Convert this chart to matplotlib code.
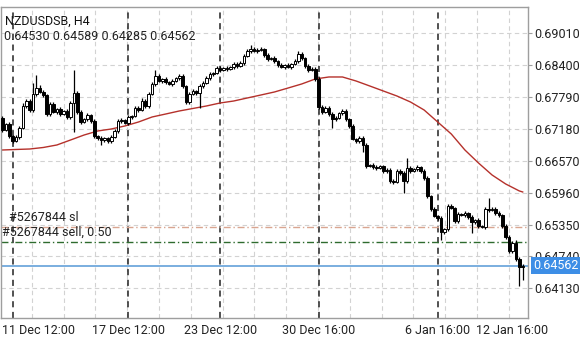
import numpy as np
import matplotlib
matplotlib.use("Agg")
import matplotlib.pyplot as plt
from matplotlib.transforms import blended_transform_factory

plt.rcParams['font.family'] = ['Roboto', 'DejaVu Sans']

# NZDUSDSB H4 - closes per bar, open of each bar = previous close
first_open = 0.67392
closes = [
    0.67162, 0.67277, 0.67047, 0.66951, 0.67028, 0.67200, 0.67622, 0.67717, 0.67545, 0.67851,
    0.67966, 0.67890, 0.67832, 0.67468, 0.67660, 0.67507, 0.67564, 0.67468, 0.67526, 0.67411,
    0.67679, 0.67871, 0.67507, 0.67315, 0.67373, 0.67449, 0.67334, 0.67047, 0.67009, 0.66970,
    0.67009, 0.66951, 0.67028, 0.67143, 0.67334, 0.67354, 0.67296, 0.67411, 0.67430, 0.67583,
    0.67545, 0.67717, 0.67622, 0.67851, 0.68043, 0.68196, 0.68100, 0.68139, 0.68081, 0.68043,
    0.68100, 0.68158, 0.68196, 0.68005, 0.67698, 0.67851, 0.67909, 0.67871, 0.68005, 0.68062,
    0.68158, 0.68234, 0.68254, 0.68349, 0.68311, 0.68349, 0.68330, 0.68368, 0.68426, 0.68388,
    0.68445, 0.68579, 0.68675, 0.68713, 0.68675, 0.68694, 0.68713, 0.68598, 0.68522, 0.68541,
    0.68483, 0.68407, 0.68368, 0.68407, 0.68368, 0.68426, 0.68483, 0.68617, 0.68541, 0.68388,
    0.68311, 0.68330, 0.68139, 0.67602, 0.67507, 0.67583, 0.67468, 0.67373, 0.67392, 0.67488,
    0.67526, 0.67373, 0.67239, 0.66990, 0.66951, 0.67009, 0.66875, 0.66473, 0.66492, 0.66453,
    0.66434, 0.66473, 0.66377, 0.66396, 0.66185, 0.66166, 0.66377, 0.66339, 0.66185, 0.66434,
    0.66377, 0.66415, 0.66453, 0.66377, 0.66243, 0.65898, 0.65649, 0.65515, 0.65477, 0.65209,
    0.65266, 0.65707, 0.65668, 0.65419, 0.65553, 0.65534, 0.65573, 0.65496, 0.65400, 0.65439,
    0.65324, 0.65304, 0.65649, 0.65630, 0.65649, 0.65573, 0.65534, 0.65324, 0.65113, 0.64845,
    0.64998, 0.64692, 0.64530, 0.64562,
]
# wick lengths above / below the body, in pips
upper_wick = [
    3, 2, 3, 2, 3, 4, 5, 3, 4, 21,
    25, 6, 3, 2, 4, 3, 2, 3, 2, 3,
    4, 44, 3, 3, 2, 3, 2, 3, 2, 3,
    2, 2, 3, 3, 4, 3, 2, 3, 2, 4,
    3, 5, 3, 4, 4, 11, 3, 2, 3, 2,
    3, 2, 4, 3, 2, 4, 3, 2, 3, 3,
    4, 3, 2, 4, 3, 2, 3, 2, 3, 3,
    4, 3, 4, 8, 3, 4, 3, 2, 3, 2,
    3, 2, 3, 2, 3, 2, 4, 5, 3, 2,
    3, 3, 3, 3, 3, 4, 3, 3, 3, 2,
    4, 3, 2, 3, 2, 3, 3, 3, 2, 3,
    3, 2, 2, 3, 3, 3, 4, 3, 3, 19,
    3, 2, 3, 2, 3, 3, 2, 3, 2, 3,
    2, 3, 3, 2, 3, 2, 3, 2, 3, 2,
    3, 2, 3, 21, 3, 3, 3, 2, 3, 3,
    3, 6, 3, 2.7,
]
lower_wick = [
    3, 2, 3, 4, 2, 3, 2, 3, 4, 3,
    3, 2, 3, 4, 3, 2, 3, 3, 2, 3,
    3, 55, 3, 3, 2, 3, 3, 4, 3, 10,
    3, 4, 3, 2, 3, 3, 2, 3, 3, 2,
    3, 2, 3, 3, 2, 3, 2, 3, 3, 2,
    3, 2, 3, 3, 4, 3, 2, 3, 29, 3,
    2, 3, 3, 2, 3, 2, 3, 2, 3, 3,
    2, 3, 2, 3, 2, 3, 2, 3, 3, 2,
    3, 3, 2, 3, 2, 3, 2, 3, 3, 3,
    3, 2, 3, 3, 3, 2, 4, 17, 3, 2,
    3, 3, 3, 2, 3, 3, 13, 3, 2, 3,
    3, 2, 3, 3, 4, 3, 2, 3, 23, 3,
    3, 2, 3, 3, 3, 3, 3, 2, 3, 15,
    3, 3, 2, 4, 3, 2, 3, 3, 21, 3,
    3, 2, 3, 3, 2, 3, 3, 3, 4, 3,
    3, 4, 36, 24.5,
]

# moving average read at every 4th bar
ma_bars = list(range(0, 153, 4)) + [153]
ma_values = [
    0.66779, 0.66789, 0.66798, 0.66827, 0.66875, 0.66970, 0.67066, 0.67143, 0.67181, 0.67239,
    0.67315, 0.67411, 0.67468, 0.67526, 0.67574, 0.67622, 0.67679, 0.67717, 0.67775, 0.67832,
    0.67890, 0.67966, 0.68043, 0.68139, 0.68177, 0.68177, 0.68100, 0.68005, 0.67909, 0.67813,
    0.67698, 0.67545, 0.67315, 0.67085, 0.66779, 0.66530, 0.66300, 0.66128, 0.65995, 0.65975,
]

y_ticks = [0.64130, 0.64740, 0.65350, 0.65960, 0.66570, 0.67180, 0.67790, 0.68400, 0.69010]
time_bars = [3, 37, 64, 93, 128, 150]
time_labels = ["11 Dec 12:00", "17 Dec 12:00", "23 Dec 12:00", "30 Dec 16:00", "6 Jan 16:00", "12 Jan 16:00"]

sl_price = 0.65304
sell_price = 0.65017
bid_price = 0.64562
last_ohlc = "0.64530 0.64589 0.64285 0.64562"

closes = np.array(closes)
opens = np.r_[first_open, closes[:-1]]
highs = np.maximum(opens, closes) + np.array(upper_wick) * 0.0001
lows = np.minimum(opens, closes) - np.array(lower_wick) * 0.0001
x = np.arange(len(closes))

W, H = 584, 342
fig = plt.figure(figsize=(W / 100, H / 100), dpi=100)
ax = fig.add_axes([1 / W, 24 / H, 527 / W, 311 / H])
ax.set_xlim(-0.44, 154.56)
ax.set_ylim(0.63562, 0.69517)

# grid
for v in y_ticks:
    ax.axhline(v, color='#d2d2d2', lw=0.8, ls=(0, (4, 3)), zorder=0)
for k in range(1, 17):
    fx = (31.8 * k - 1) / 527
    ax.plot([fx, fx], [0, 1], transform=ax.transAxes, color='#d2d2d2', lw=0.8,
            ls=(0, (4, 3)), zorder=0)
for b in time_bars[:-1]:
    ax.axvline(b, color='#222222', lw=1.1, ls=(0, (4, 3)), zorder=1)

# order lines
ax.axhline(sl_price, color='#d9a590', lw=1.0, ls=(0, (5, 2, 1, 2)), zorder=1)
ax.axhline(sell_price, color='#2e6b2e', lw=1.0, ls=(0, (5, 2, 1, 2)), zorder=1)
ax.axhline(bid_price, color='#6fa8dc', lw=1.3, zorder=1)
ax.annotate("#5267844 sl", xy=(8 / 527, sl_price), xycoords=('axes fraction', 'data'),
            xytext=(0, 2), textcoords='offset points', va='bottom', ha='left',
            fontsize=9, color='#222222')
ax.annotate("#5267844 sell, 0.50", xy=(1 / 527, sell_price), xycoords=('axes fraction', 'data'),
            xytext=(0, 2), textcoords='offset points', va='bottom', ha='left',
            fontsize=9, color='#222222')

# moving average
ax.plot(ma_bars, ma_values, color='#b5312b', lw=1.0, zorder=2)

# candles
ax.vlines(x, lows, highs, color='black', lw=0.9, zorder=3)
up = closes >= opens
bottoms = np.minimum(opens, closes)
heights = np.maximum(np.abs(closes - opens), 0.00004)
ax.bar(x, heights, bottom=bottoms, width=0.78,
       color=np.where(up, 'white', 'black'), edgecolor='black', linewidth=0.7, zorder=4)

# axes styling
for s in ax.spines.values():
    s.set_color('#9e9e9e')
    s.set_linewidth(1.0)
ax.yaxis.tick_right()
ax.set_yticks(y_ticks)
ax.set_yticklabels([f"{v:.5f}" for v in y_ticks])
ax.tick_params(axis='y', labelsize=9, colors='#9e9e9e', labelcolor='#222222',
               length=3, pad=1.5)
ax.set_xticks([])

tb = blended_transform_factory(ax.transData, fig.transFigure)
for b, lab in zip(time_bars[1:], time_labels[1:]):
    fig.text(b, 12 / H, lab, transform=tb, ha='center', va='center', fontsize=9, color='#222222')
fig.text(1.5 / W, 12 / H, time_labels[0], ha='left', va='center', fontsize=9, color='#222222')

# price box
ax.annotate(f"{bid_price:.5f}", xy=(1.0, bid_price), xycoords=('axes fraction', 'data'),
            xytext=(3.5, 0), textcoords='offset points', ha='left', va='center',
            fontsize=9, color='white', zorder=10, annotation_clip=False,
            bbox=dict(boxstyle='square,pad=0.15', fc='#3d8ee6', ec='none'))

fig.text(5 / W, 1 - 21 / H, "NZDUSDSB, H4", ha='left', va='center', fontsize=9, color='#111111')
fig.text(4 / W, 1 - 36 / H, last_ohlc, ha='left', va='center', fontsize=9, color='#222222')

fig.savefig("out.png", dpi=100)
